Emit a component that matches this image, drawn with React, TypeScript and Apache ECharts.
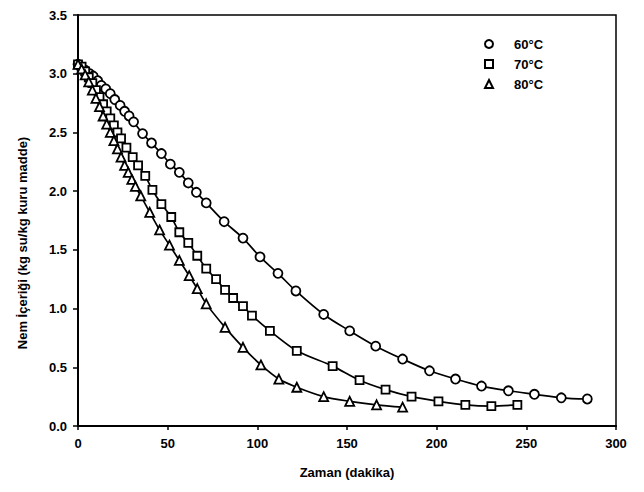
import React, { useEffect, useRef } from "react";
import * as echarts from "echarts";

const xTicks = [0, 50, 100, 150, 200, 250, 300];
const yTicks = [0, 0.5, 1.0, 1.5, 2.0, 2.5, 3.0, 3.5];

const seriesNames = ["60°C", "70°C", "80°C"];

const t60 = [0, 1.5, 4, 6.5, 8.5, 11, 13, 15.5, 18, 20.5, 23.5, 26, 28.5, 31, 36, 41, 46.5, 51.5, 56.5, 61.5, 66, 71.5, 81.5, 92, 101.5, 111.5, 121.5, 137, 151.5, 166, 181, 196, 210.5, 225, 240, 254.5, 269.5, 284];
const y60 = [3.08, 3.06, 3.03, 3.0, 2.98, 2.94, 2.9, 2.87, 2.83, 2.78, 2.73, 2.68, 2.64, 2.59, 2.49, 2.41, 2.32, 2.23, 2.16, 2.07, 1.99, 1.9, 1.74, 1.6, 1.44, 1.3, 1.15, 0.95, 0.81, 0.68, 0.57, 0.47, 0.4, 0.34, 0.3, 0.27, 0.24, 0.23];

const t70 = [0, 2, 4, 6, 8, 10, 12, 14, 16, 18, 20, 22, 24, 27, 30.5, 33.5, 37.5, 41.5, 46.5, 52, 56.5, 61.5, 66.5, 71.5, 77, 82, 86.5, 92, 97, 107, 122, 142, 157, 171.5, 186, 201, 216, 230.5, 245];
const y70 = [3.08, 3.06, 3.02, 2.97, 2.92, 2.86, 2.8, 2.74, 2.68, 2.62, 2.56, 2.5, 2.45, 2.37, 2.29, 2.22, 2.13, 2.01, 1.89, 1.78, 1.65, 1.56, 1.45, 1.34, 1.25, 1.16, 1.09, 1.02, 0.94, 0.81, 0.64, 0.51, 0.39, 0.31, 0.25, 0.21, 0.18, 0.17, 0.18];

const t80 = [0, 2, 4, 6, 8, 10, 12, 14, 16, 18, 20, 22, 24, 26, 28, 30, 32, 35, 40, 45.5, 51, 56.5, 62, 66.5, 71.5, 82, 92, 102, 112, 122, 137, 151.5, 166.5, 181];
const y80 = [3.08, 3.04, 2.99, 2.93, 2.86, 2.79, 2.72, 2.64, 2.57, 2.5, 2.43, 2.36, 2.29, 2.22, 2.16, 2.1, 2.04, 1.96, 1.82, 1.67, 1.54, 1.41, 1.28, 1.17, 1.04, 0.84, 0.67, 0.52, 0.4, 0.33, 0.25, 0.21, 0.18, 0.16];

const xName = "Zaman (dakika)";
const yName = "Nem İçeriği (kg su/kg kuru madde)";

const FONT = "'Liberation Sans', Arial, sans-serif";

function zip(t: number[], y: number[]) {
  return t.map((v, i) => [v, y[i]]);
}

export default function App() {
  const ref = useRef<HTMLDivElement>(null);
  useEffect(() => {
    if (!ref.current) return;
    const chart = echarts.init(ref.current, null, { renderer: "svg" });
    const mk = (name: string, data: number[][], symbol: string, size: number) => ({
      name,
      type: "line",
      data,
      smooth: 0.3,
      symbol,
      symbolSize: size,
      showSymbol: true,
      lineStyle: { color: "#000", width: 1.7 },
      itemStyle: { color: "#fff", borderColor: "#000", borderWidth: 1.8 },
      emphasis: { disabled: true },
    });
    chart.setOption({
      animation: false,
      backgroundColor: "#fff",
      grid: {
        left: 78,
        right: 28,
        top: 15,
        bottom: 66,
        show: true,
        borderColor: "#000",
        borderWidth: 1.5,
      },
      graphic: [
        {
          type: "text",
          x: 22,
          y: 243,
          rotation: Math.PI / 2,
          style: {
            text: yName,
            fontFamily: FONT,
            fontWeight: "bold",
            fontSize: 13,
            fill: "#000",
            align: "center",
            verticalAlign: "middle",
          },
        },
      ],
      legend: {
        orient: "vertical",
        left: 484,
        top: 37,
        padding: 0,
        itemWidth: 8,
        itemHeight: 8,
        itemGap: 6,
        selectedMode: false,
        textStyle: {
          fontFamily: FONT,
          fontWeight: "bold",
          fontSize: 13,
          color: "#000",
          lineHeight: 14,
          padding: [0, 0, 0, 16],
        },
        data: [
          { name: seriesNames[0], icon: "circle" },
          { name: seriesNames[1], icon: "rect" },
          { name: seriesNames[2], icon: "triangle" },
        ],
      },
      xAxis: {
        type: "value",
        min: xTicks[0],
        max: xTicks[xTicks.length - 1],
        interval: 50,
        name: xName,
        nameLocation: "middle",
        nameGap: 40,
        nameTextStyle: { fontFamily: FONT, fontWeight: "bold", fontSize: 13, color: "#000" },
        axisLine: { show: true, onZero: false, lineStyle: { color: "#000", width: 2 } },
        axisTick: { show: true, length: 4, lineStyle: { color: "#000", width: 1.5 } },
        axisLabel: { margin: 11, fontFamily: FONT, fontWeight: "bold", fontSize: 13, color: "#000" },
        splitLine: { show: false },
      },
      yAxis: {
        type: "value",
        min: yTicks[0],
        max: yTicks[yTicks.length - 1],
        interval: 0.5,
        axisLine: { show: true, onZero: false, lineStyle: { color: "#000", width: 2 } },
        axisTick: { show: true, length: 5, lineStyle: { color: "#000", width: 1.5 } },
        axisLabel: {
          margin: 11,
          fontFamily: FONT,
          fontWeight: "bold",
          fontSize: 13,
          color: "#000",
          formatter: (v: number) => v.toFixed(1),
        },
        splitLine: { show: false },
      },
      series: [
        mk(seriesNames[0], zip(t60, y60), "circle", 9),
        mk(seriesNames[1], zip(t70, y70), "rect", 8),
        mk(seriesNames[2], zip(t80, y80), "triangle", 9),
      ],
    });
    return () => chart.dispose();
  }, []);
  return (
    <div
      ref={ref}
      style={{ position: "fixed", left: 0, top: 0, width: 644, height: 492, background: "#fff" }}
    />
  );
}
